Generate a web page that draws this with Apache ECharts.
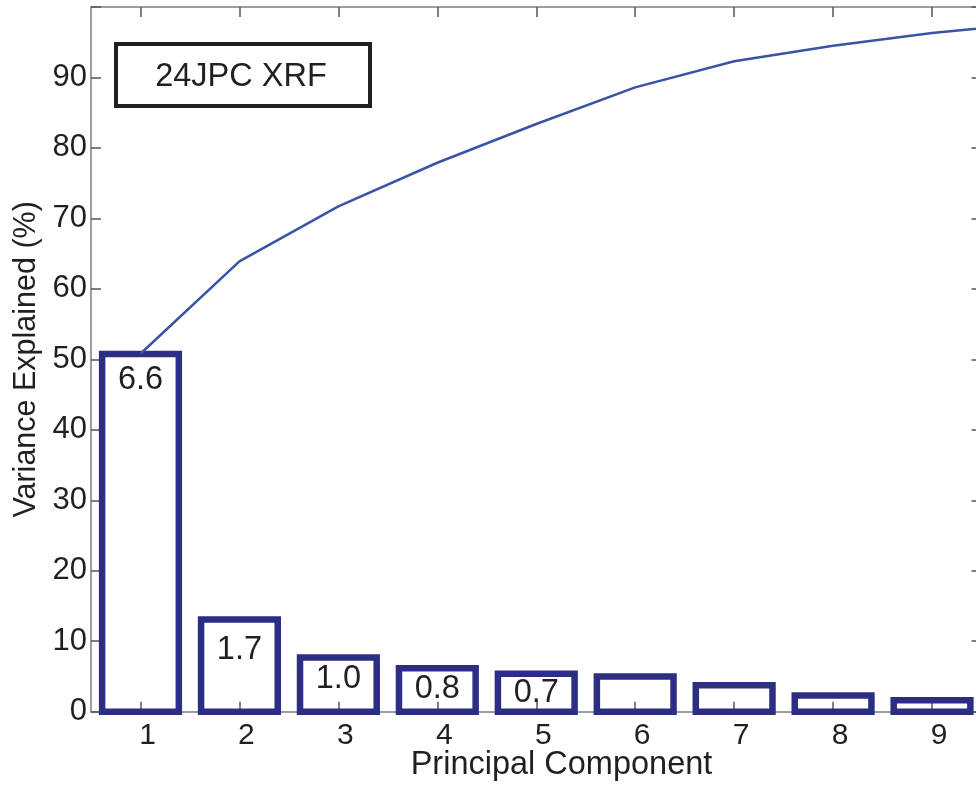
<!DOCTYPE html>
<html>
<head>
<meta charset="utf-8">
<script src="https://cdn.jsdelivr.net/npm/echarts@6/dist/echarts.min.js"></script>
<style>
  html, body { margin: 0; padding: 0; background: #ffffff; }
  #chart { width: 976px; height: 786px; }
</style>
</head>
<body>
<div id="chart"></div>
<script>
// Principal components of the 24JPC XRF data set
const components = [1, 2, 3, 4, 5, 6, 7, 8, 9];
// eigenvalue of each component (first five are printed on the bars)
const eigenvalues = [6.6, 1.7, 1.0, 0.8, 0.7, 0.65, 0.49, 0.30, 0.21];
const labelledCount = 5;
// number of standardised XRF variables (sum of all eigenvalues)
const nVariables = 13;
// cumulative variance explained (%), components 1..10
const cumulativeComponents = [1, 2, 3, 4, 5, 6, 7, 8, 9, 10];
const cumulativeVariance = [50.8, 63.9, 71.7, 77.9, 83.4, 88.6, 92.3, 94.5, 96.3, 97.7];
const yTicks = [0, 10, 20, 30, 40, 50, 60, 70, 80, 90, 100];
const xTicks = [1, 2, 3, 4, 5, 6, 7, 8, 9];

// ---- styling ----
// vertical offset (px) of each eigenvalue label below its bar top
const labelOffset = [26.5, 30, 22, 21, 19.5];
const BAR_UNITS = 0.775;      // bar width as a fraction of one component step
const BAR_STROKE = 6.5;

const TEXT = '#231f20';
const AXIS = '#7d7d7d';
const TICK = '#555555';
const BAR = '#2b2e83';
const LINE = '#3a53a4';
const FONT = '"Liberation Sans", Arial, sans-serif';

const barPercent = eigenvalues.map(e => e / nVariables * 100);
const barData = components.map((c, i) => [c, barPercent[i], i]);
const lineData = cumulativeComponents.map((c, i) => [c, cumulativeVariance[i]]);

// open rectangles with the outline centred on the bar edges
function renderBar(params, api) {
  const x = api.value(0);
  const v = api.value(1);
  const idx = api.value(2);
  const top = api.coord([x, v]);
  const base = api.coord([x, 0]);
  const w = api.size([BAR_UNITS, 0])[0];
  const children = [{
    type: 'rect',
    shape: { x: top[0] - w / 2, y: top[1], width: w, height: base[1] - top[1] },
    style: { fill: 'none', stroke: BAR, lineWidth: BAR_STROKE }
  }];
  if (idx < labelledCount) {
    children.push({
      type: 'text',
      x: top[0], y: top[1] + labelOffset[idx],
      style: {
        text: eigenvalues[idx].toFixed(1),
        font: '32.5px ' + FONT, fill: TEXT,
        align: 'center', verticalAlign: 'middle'
      }
    });
  }
  return { type: 'group', children: children };
}

const chart = echarts.init(document.getElementById('chart'), null, { renderer: 'canvas' });

const xCommon = {
  type: 'value', min: 0.5, max: 9.5,
  splitLine: { show: false },
  axisLine: { show: true, onZero: false, lineStyle: { color: AXIS, width: 1.5 } },
  axisTick: { show: true, inside: true, length: 10, customValues: xTicks, lineStyle: { color: TICK, width: 1.5 } }
};
const yCommon = {
  type: 'value', min: 0, max: 100, interval: 10,
  splitLine: { show: false },
  axisLine: { show: true, onZero: false, lineStyle: { color: AXIS, width: 1.5 } },
  axisTick: { show: true, inside: true, length: 10, customValues: yTicks, lineStyle: { color: TICK, width: 1.5 } }
};

chart.setOption({
  animation: false,
  backgroundColor: '#ffffff',
  textStyle: { fontFamily: FONT },
  grid: { left: 91, top: 7, bottom: 74.3, right: -5.5, outerBoundsMode: 'none', containLabel: false },
  xAxis: [
    Object.assign({}, xCommon, {
      position: 'bottom',
      axisLabel: {
        show: true, customValues: xTicks, margin: 9, padding: [0, 0, 0, 14],
        fontSize: 30, color: TEXT, fontFamily: FONT
      }
    }),
    Object.assign({}, xCommon, { position: 'top', axisLabel: { show: false } })
  ],
  yAxis: [
    Object.assign({}, yCommon, {
      position: 'left',
      name: 'Variance Explained (%)',
      nameLocation: 'middle',
      nameGap: 47,
      nameTextStyle: { fontSize: 30.5, color: TEXT, fontFamily: FONT },
      axisLabel: {
        show: true, margin: 4, fontSize: 31, color: TEXT, fontFamily: FONT,
        formatter: v => (v >= 100 ? '' : String(v))
      }
    }),
    Object.assign({}, yCommon, { position: 'right', axisLabel: { show: false } })
  ],
  series: [
    {
      type: 'custom',
      xAxisIndex: 0, yAxisIndex: 0,
      data: barData,
      renderItem: renderBar,
      clip: false,
      z: 3
    },
    {
      type: 'line',
      xAxisIndex: 0, yAxisIndex: 0,
      data: lineData,
      symbol: 'none',
      clip: true,
      lineStyle: { color: LINE, width: 2.5 },
      z: 4
    }
  ],
  graphic: [
    {
      type: 'rect',
      shape: { x: 116, y: 44, width: 254, height: 62 },
      style: { fill: 'none', stroke: TEXT, lineWidth: 4 },
      z: 10
    },
    {
      type: 'text',
      x: 241, y: 77,
      style: { text: '24JPC XRF', font: '32.5px ' + FONT, fill: TEXT, align: 'center', verticalAlign: 'middle' },
      z: 10
    },
    {
      type: 'text',
      x: 561.5, y: 765,
      style: { text: 'Principal Component', font: '32.5px ' + FONT, fill: TEXT, align: 'center', verticalAlign: 'middle' },
      z: 10
    }
  ]
});
</script>
</body>
</html>
